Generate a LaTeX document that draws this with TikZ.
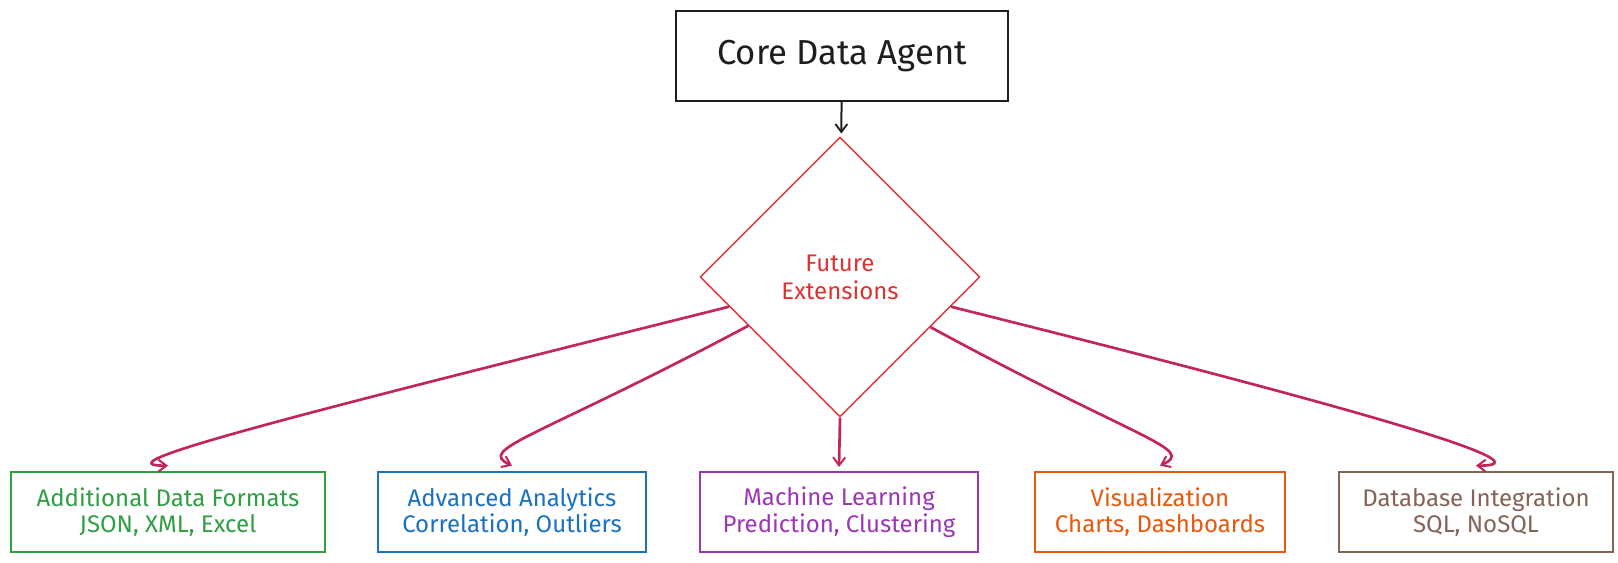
\documentclass[tikz,border=0pt]{standalone}
\usepackage{fontspec}
\setmainfont{Fira Sans}
\usetikzlibrary{arrows.meta,shapes.geometric,positioning}

\definecolor{inkblack}{HTML}{1E1E1E}
\definecolor{extred}{HTML}{E03131}
\definecolor{linkred}{HTML}{C2255C}
\definecolor{fmtgreen}{HTML}{2F9E44}
\definecolor{anablue}{HTML}{1971C2}
\definecolor{mlpurple}{HTML}{9C36B5}
\definecolor{vizorange}{HTML}{E8590C}
\definecolor{dbbrown}{HTML}{846358}

\begin{document}
\begin{tikzpicture}[x=0.75pt, y=0.75pt,
    extbox/.style={rectangle, draw=#1, text=#1, line width=1.5pt, fill=white,
    align=center, minimum height=60pt, inner sep=0pt,
    font=\fontsize{18}{20}\selectfont},
    link/.style={draw=linkred, line width=2pt, -{Straight Barb[length=6pt,width=9pt,line width=1.5pt]}}]
    \useasboundingbox (0,0) rectangle (1618,562);

    \node (core) [rectangle, draw=inkblack, line width=1.5pt, minimum width=249pt, minimum height=67pt,
    font=\fontsize{26}{30}\selectfont, text=inkblack] at (842,506) {Core Data Agent};

    \node (ext) [diamond, draw=extred, line width=1.1pt, text=extred, align=center, inner sep=0pt,
    minimum width=210pt, minimum height=210pt, font=\fontsize{18}{21}\selectfont] at (840,285)
    {Future\\Extensions};

    \node (formats) [extbox=fmtgreen, minimum width=235pt] at (168,50) {Additional Data Formats\\JSON, XML, Excel};
    \node (analytics) [extbox=anablue, minimum width=201pt] at (512,50) {Advanced Analytics\\Correlation, Outliers};
    \node (ml) [extbox=mlpurple, minimum width=208pt] at (839,50) {Machine Learning\\Prediction, Clustering};
    \node (viz) [extbox=vizorange, minimum width=188pt] at (1160,50) {Visualization\\Charts, Dashboards};
    \node (db) [extbox=dbbrown, minimum width=206pt] at (1476,50) {Database Integration\\SQL, NoSQL};

    \draw [inkblack, line width=1.5pt, shorten >=3pt, -{Straight Barb[length=6pt,width=9pt,line width=1.4pt]}]
    (core) -- (ext);

    \draw [link] (ext.195) .. controls +(194:470) and +(180:70) .. ([yshift=4pt]formats.north);
    \draw [link] (ext.208) .. controls +(208:240) and +(155:40) .. ([yshift=4pt]analytics.north);
    \draw [link] (ext.south) -- ([yshift=3pt]ml.north);
    \draw [link] (ext.331.5) .. controls +(331.5:240) and +(25:40) .. ([yshift=4pt]viz.north);
    \draw [link] (ext.345) .. controls +(346:470) and +(0:70) .. ([yshift=4pt]db.north);
\end{tikzpicture}
\end{document}
